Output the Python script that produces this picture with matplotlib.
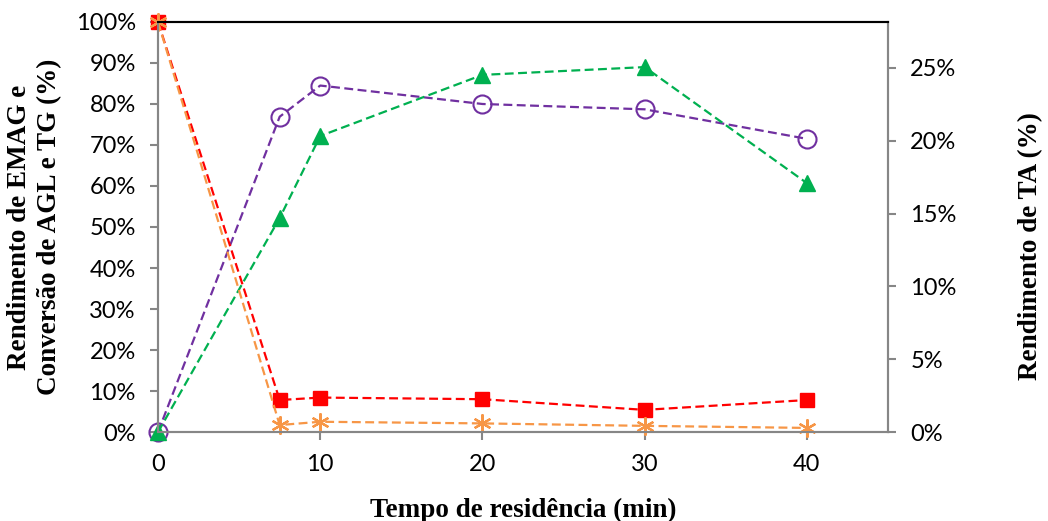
import numpy as np
import matplotlib
matplotlib.use('Agg')
import matplotlib.pyplot as plt
from matplotlib.ticker import PercentFormatter

# dados (tempo de residência em min, valores em fração)
tempo = [0, 7.5, 10, 20, 30, 40]
emag = [0.0, 0.769, 0.845, 0.800, 0.787, 0.715]      # roxo, círculos
serie_verde = [0.0, 0.522, 0.722, 0.871, 0.890, 0.607]  # verde, triângulos
agl = [1.0, 0.078, 0.084, 0.080, 0.054, 0.078]       # vermelho, quadrados
tg = [1.0, 0.017, 0.025, 0.021, 0.015, 0.010]        # laranja, asteriscos

x_ticks = [0, 10, 20, 30, 40]
left_ticks = np.arange(0, 1.01, 0.1)
right_ticks = [0, 0.05, 0.10, 0.15, 0.20, 0.25]

GRAY = '#868686'
tick_font = 'Lato'
label_font = {'family': 'Liberation Serif', 'weight': 'bold', 'size': 19.5}

fig = plt.figure(figsize=(10.48, 5.21), dpi=100)
ax = fig.add_axes([0.1508, 0.1708, 0.6965, 0.7870])
ax2 = ax.twinx()

dash = (0, (4, 2))
ax.plot(tempo, emag, color='#7030A0', linestyle=dash, lw=1.6, marker='o', markersize=13,
        markerfacecolor='none', markeredgecolor='#7030A0', markeredgewidth=1.5, clip_on=False, zorder=3)
ax.plot(tempo, serie_verde, color='#00B050', linestyle=dash, lw=1.6, marker='^', markersize=12,
        markerfacecolor='#00B050', markeredgecolor='#00B050', clip_on=False, zorder=4)
ax.plot(tempo, agl, color='#FF0000', linestyle=dash, lw=1.6, marker='s', markersize=9.5,
        markerfacecolor='#FF0000', markeredgecolor='#FF0000', clip_on=False, zorder=5)
ax.plot(tempo, tg, color='#F79646', linestyle=dash, lw=1.6, marker=(6, 2, 0), markersize=13,
        markeredgecolor='#F79646', markeredgewidth=1.6, clip_on=False, zorder=6)

ax.set_xlim(0, 45)
ax.set_ylim(0, 1)
ax2.set_ylim(0, 0.2816)
ax.set_xticks(x_ticks)
ax.set_yticks(left_ticks)
ax2.set_yticks(right_ticks)
ax.yaxis.set_major_formatter(PercentFormatter(1.0, decimals=0))
ax2.yaxis.set_major_formatter(PercentFormatter(1.0, decimals=0))

for a in (ax, ax2):
    for s in ('left', 'bottom', 'right'):
        a.spines[s].set_color(GRAY)
        a.spines[s].set_linewidth(1.5)
    a.spines['top'].set_color('black')
    a.spines['top'].set_linewidth(1.5)
    a.tick_params(direction='out', length=6, width=1.5, color=GRAY, labelsize=17, pad=10)
    for lab in a.get_xticklabels() + a.get_yticklabels():
        lab.set_fontfamily(tick_font)

ax.set_xlabel('Tempo de residência (min)', fontdict=label_font, labelpad=16)
ax.set_ylabel('Rendimento de EMAG e\nConversão de AGL e TG (%)', fontdict=label_font,
              linespacing=1.25)
ax.yaxis.set_label_coords(-0.1315, 0.5)
ax2.set_ylabel('Rendimento de TA (%)', fontdict=label_font)
ax2.yaxis.set_label_coords(1.178, 0.4537)

fig.savefig('out.png', dpi=100)
